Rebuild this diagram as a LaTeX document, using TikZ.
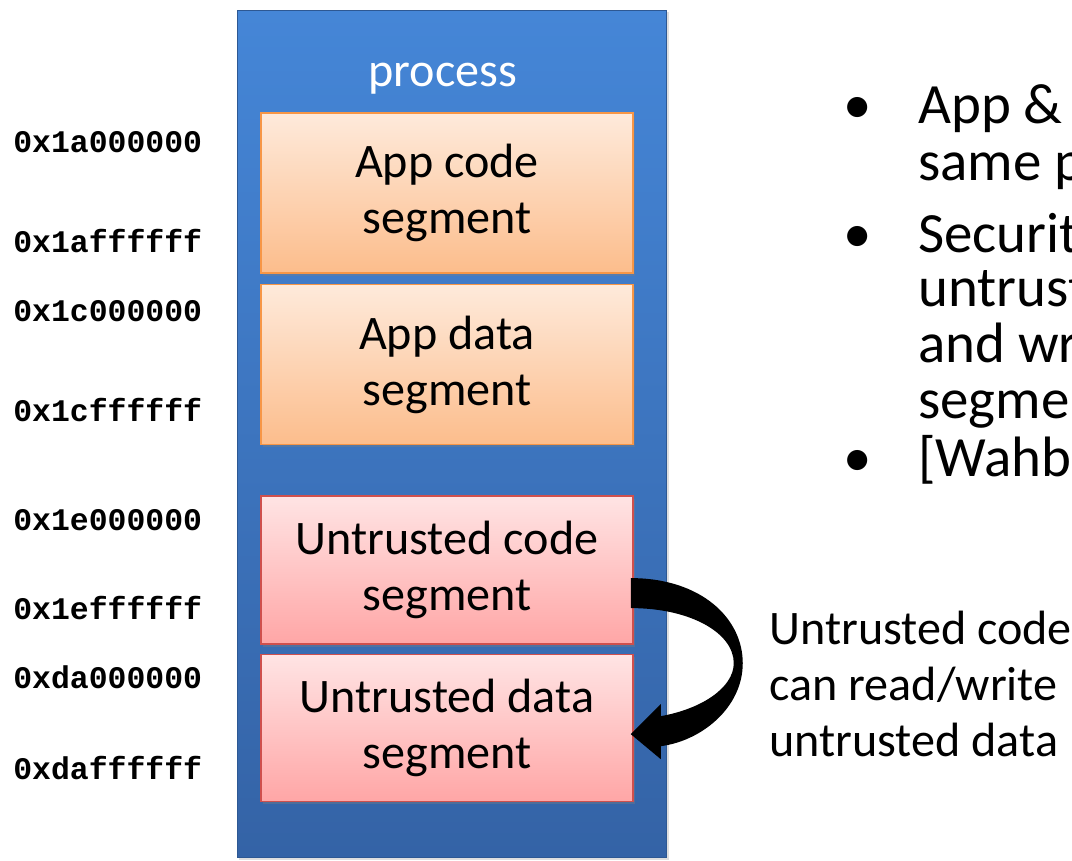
\documentclass[tikz,border=0pt]{standalone}
\usepackage{fontspec}
\setmainfont{Carlito}
\newfontfamily\addrfont{Liberation Mono}
\usetikzlibrary{positioning, calc, shadows}
\definecolor{PR_TOP}{HTML}{4586D7}
\definecolor{PR_BOT}{HTML}{3463A6}
\definecolor{PR_EDGE}{HTML}{2D5893}
\definecolor{AP_TOP}{HTML}{FEEADB}
\definecolor{AP_BOT}{HTML}{FCBD8C}
\definecolor{AP_EDGE}{HTML}{F79646}
\definecolor{UT_TOP}{HTML}{FFE4E4}
\definecolor{UT_BOT}{HTML}{FFA6A6}
\definecolor{UT_EDGE}{HTML}{CF504D}
\tikzset{
  procbox/.style={
    rectangle, minimum width=8.6cm, minimum height=16.96cm,
    top color=PR_TOP, bottom color=PR_BOT, draw=PR_EDGE, line width=0.6pt,
    drop shadow={shadow xshift=1.2pt, shadow yshift=-1pt, opacity=0.25}},
  appseg/.style={
    rectangle, minimum width=7.44cm, minimum height=3.2cm,
    text centered, align=center,
    top color=AP_TOP, bottom color=AP_BOT, draw=AP_EDGE, line width=0.9pt,
    font=\fontsize{27.4}{31.9}\selectfont,
    drop shadow={shadow xshift=1.2pt, shadow yshift=-1.5pt, opacity=0.35}},
  untseg/.style={
    rectangle, minimum width=7.44cm,
    text centered, align=center,
    top color=UT_TOP, bottom color=UT_BOT, draw=UT_EDGE, line width=0.9pt,
    font=\fontsize{27.4}{31.9}\selectfont,
    drop shadow={shadow xshift=1.2pt, shadow yshift=-1.5pt, opacity=0.35}},
  addr/.style={anchor=base west, inner sep=0pt,
    font=\addrfont\bfseries\fontsize{17.9}{20}\selectfont},
  slide/.style={anchor=base west, inner sep=0pt,
    font=\fontsize{27.4}{31.9}\selectfont},
  bigslide/.style={anchor=base west, inner sep=0pt,
    font=\fontsize{32.4}{32.4}\selectfont},
}
\begin{document}
\begin{tikzpicture}[x=0.02cm, y=-0.02cm]
  \clip (0,0) rectangle (1072,860);

  % process box
  \node[procbox] (proc) at (452,434) {};
  \node[slide, anchor=base, text=white] (proctitle) at (443,86) {process};

  % segments
  \node[appseg] (appcode) at (447,193) {App code\\segment};
  \node[appseg, below=0.2cm of appcode] (appdata) {App data\\segment};
  \node[untseg, minimum height=2.96cm, below=1cm of appdata] (ucode)
    {Untrusted code\\segment};
  \node[untseg, minimum height=2.94cm, below=0.18cm of ucode] (udata)
    {Untrusted data\\segment};

  % addresses
  \node[addr] (a1) at (13,152.5) {0x1a000000};
  \node[addr] (a2) at (13,252.5) {0x1affffff};
  \node[addr] (a3) at (13,321.5) {0x1c000000};
  \node[addr] (a4) at (13,421.5) {0x1cffffff};
  \node[addr] (a5) at (13,530.5) {0x1e000000};
  \node[addr] (a6) at (13,619.5) {0x1effffff};
  \node[addr] (a7) at (13,688.5) {0xda000000};
  \node[addr] (a8) at (13,779.5) {0xdaffffff};

  % bullets
  \node[bigslide] (bul1) at (843,123) {•};
  \node[bigslide] (pt1a) at (918,123) {App \&};
  \node[bigslide] (pt1b) at (918,180) {same process};
  \node[bigslide] (bul2) at (843,252) {•};
  \node[bigslide] (pt2a) at (918,252) {Security};
  \node[bigslide] (pt2b) at (918,306) {untrusted};
  \node[bigslide] (pt2c) at (918,362) {and write};
  \node[bigslide] (pt2d) at (918,418) {segments};
  \node[bigslide] (bul3) at (843,476) {•};
  \node[bigslide] (pt3a) at (918,476) {[Wahbe};

  \node[slide, anchor=west, align=left] (note) at (769,684)
    {Untrusted code\\can read/write\\untrusted data};

  % curved arrow code -> data
  \coordinate (r1) at ($(ucode.east)+(-3,8)$);
  \coordinate (r2) at ($(ucode.east)+(-3,38)$);
  \coordinate (rtip) at ($(udata.east)+(-3,6)$);
  \fill[black] (r1)
    .. controls +(70,0) and +(0,-45) .. ($(ucode.east)+(109,93)$)
    .. controls +(0,45) and +(40,-5) .. ($(udata.east)+(27,18)$)
    -- ++(0,13) -- (rtip) -- ($(udata.east)+(27,-24)$) -- ++(0,12)
    .. controls +(40,-7) and +(0,25) .. ($(ucode.east)+(100,93)$)
    .. controls +(0,-30) and +(60,0) .. (r2)
    -- cycle;

\end{tikzpicture}
\end{document}
